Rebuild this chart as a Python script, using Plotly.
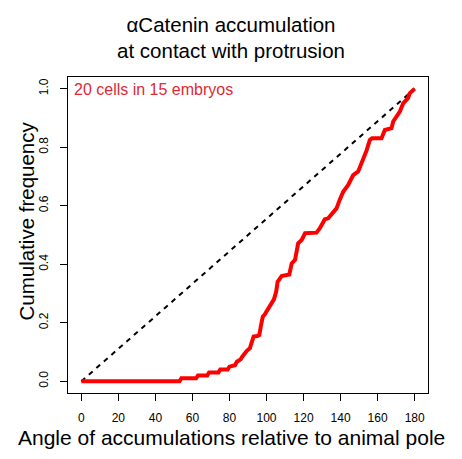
import plotly.graph_objects as go

# Data (angle in degrees, cumulative frequency)
angle = [0, 53, 54, 62, 63, 68, 69, 74, 75, 79, 80, 83, 84, 86, 87, 88.4, 89.5, 91, 92, 93, 95, 96.1, 97, 98, 99,
         100, 101, 103, 104, 105.2, 106, 108.2, 110, 112.3, 113.6, 115.4, 117.1, 119, 120.8, 127, 128.8, 131.5,
         133.3, 135.1, 137.8, 139.5, 141.4, 144.1, 146.8, 149.5, 151, 152.2, 154.1, 155.8, 157, 162.1, 163.9,
         167.5, 168.4, 172, 173.8, 176.4, 177.4, 180]
cum_freq = [0, 0, 0.01, 0.01, 0.02, 0.02, 0.03, 0.03, 0.04, 0.04, 0.05, 0.055, 0.067, 0.075, 0.085, 0.1, 0.105, 0.113,
            0.13, 0.153, 0.155, 0.158, 0.19, 0.221, 0.228, 0.238, 0.25, 0.272, 0.28, 0.306, 0.34, 0.36, 0.362, 0.365,
            0.403, 0.415, 0.472, 0.483, 0.506, 0.508, 0.523, 0.554, 0.557, 0.569, 0.591, 0.62, 0.648, 0.671, 0.705,
            0.717, 0.74, 0.757, 0.79, 0.825, 0.831, 0.831, 0.859, 0.865, 0.888, 0.922, 0.95, 0.968, 0.985, 1.0]
ref_x = [0, 180]
ref_y = [0, 1]
x_ticks = [0, 20, 40, 60, 80, 100, 120, 140, 160, 180]
y_ticks = [0.0, 0.2, 0.4, 0.6, 0.8, 1.0]
y_labels = ["0.0", "0.2", "0.4", "0.6", "0.8", "1.0"]

FONT = "Liberation Sans, Arial, Helvetica, sans-serif"
W, H = 462, 459
ML, MR, MT, MB = 68, 34, 77, 66
PW = W - ML - MR
PH = H - MT - MB

fig = go.Figure()
fig.add_trace(go.Scatter(x=ref_x, y=ref_y, mode="lines",
                         line=dict(color="black", width=2, dash="5px,5px"),
                         showlegend=False, hoverinfo="skip"))
fig.add_trace(go.Scatter(x=angle, y=cum_freq, mode="lines",
                         line=dict(color="#FF0000", width=4),
                         showlegend=False))

fig.update_layout(
    width=W, height=H,
    margin=dict(l=ML, r=MR, t=MT, b=MB, pad=0),
    paper_bgcolor="white", plot_bgcolor="white",
    font=dict(family=FONT, color="black"),
    title=dict(text="αCatenin accumulation<br>at contact with protrusion",
               x=0.5, xref="container", xanchor="center",
               y=1 - 31.5 / H, yref="container", yanchor="middle",
               font=dict(size=20.5, family=FONT, color="black")),
    xaxis=dict(range=[-7.2, 187.2], tickvals=x_ticks, ticks="outside", ticklen=7,
               tickcolor="black", tickwidth=1, showline=True, linecolor="black",
               linewidth=1, mirror=True, showgrid=False, zeroline=False,
               tickfont=dict(size=12, family=FONT, color="black"),
               ticklabelstandoff=7),
    yaxis=dict(range=[-0.04, 1.04], tickvals=y_ticks, ticktext=y_labels,
               ticks="outside", ticklen=7, tickangle=-90,
               tickcolor="black", tickwidth=1, showline=True, linecolor="black",
               linewidth=1, mirror=True, showgrid=False, zeroline=False,
               tickfont=dict(size=12, family=FONT, color="black"),
               ticklabelstandoff=7),
    annotations=[
        dict(text="Angle of accumulations relative to animal pole",
             xref="paper", yref="paper", x=(231.7 - ML) / PW, y=(H - MB - 437) / PH,
             xanchor="center", yanchor="middle", showarrow=False,
             font=dict(size=21, family=FONT, color="black")),
        dict(text="Cumulative frequency", textangle=-90,
             xref="paper", yref="paper", x=(26 - ML) / PW, y=(H - MB - 221.5) / PH,
             xanchor="center", yanchor="middle", showarrow=False,
             font=dict(size=20.5, family=FONT, color="black")),
        dict(text="20 cells in 15 embryos",
             xref="paper", yref="paper", x=(71.7 - ML) / PW, y=(H - MB - 89) / PH,
             xanchor="left", yanchor="middle", showarrow=False,
             font=dict(size=16, family=FONT, color="#DD2A35")),
    ],
)

fig.write_html("out.html", config={"displayModeBar": False},
               post_script="document.body.style.margin='0';")
